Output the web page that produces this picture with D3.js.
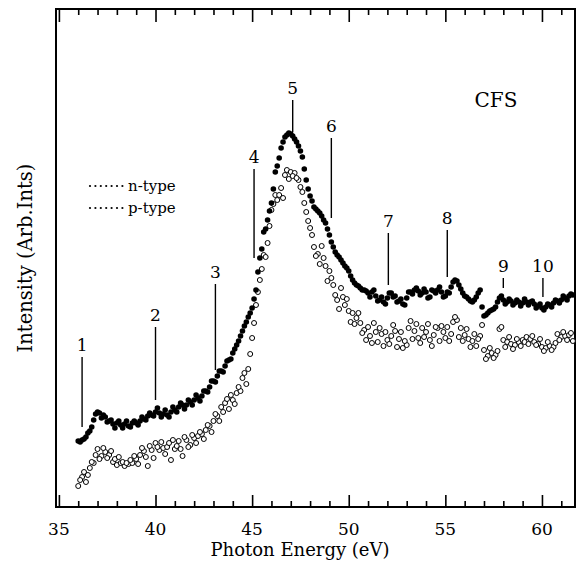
<!DOCTYPE html>
<html><head><meta charset="utf-8">
<script src="https://cdn.jsdelivr.net/npm/d3@7"></script>
<style>body{margin:0;background:#fff;} svg{display:block;}</style>
</head><body>
<svg id="chart" width="579" height="568"></svg>
<script>
// scan on even 0.2 eV points
const energy = [36.0,36.2,36.4,36.6,36.8,37.0,37.2,37.4,37.6,37.8,38.0,38.2,38.4,38.6,38.8,39.0,39.2,39.4,39.6,39.8,
40.0,40.2,40.4,40.6,40.8,41.0,41.2,41.4,41.6,41.8,42.0,42.2,42.4,42.6,42.8,43.0,43.2,43.4,43.6,43.8,
44.0,44.2,44.4,44.6,44.8,45.0,45.2,45.4,45.6,45.8,46.0,46.2,46.4,46.6,46.8,47.0,47.2,47.4,47.6,47.8,
48.0,48.2,48.4,48.6,48.8,49.0,49.2,49.4,49.6,49.8,50.0,50.2,50.4,50.6,50.8,51.0,51.2,51.4,51.6,51.8,
52.0,52.2,52.4,52.6,52.8,53.0,53.2,53.4,53.6,53.8,54.0,54.2,54.4,54.6,54.8,55.0,55.2,55.4,55.6,55.8,
56.0,56.2,56.4,56.6,56.8,57.0,57.2,57.4,57.6,57.8,58.0,58.2,58.4,58.6,58.8,59.0,59.2,59.4,59.6,59.8,
60.0,60.2,60.4,60.6,60.8,61.0,61.2,61.4,61.6];

const nType = [13.2,13.4,14.0,15.2,17.4,19.0,17.8,18.0,17.2,16.6,16.8,16.4,16.6,16.2,16.8,16.8,17.2,17.6,18.2,18.4,
19.0,18.8,18.6,18.4,19.0,19.4,20.0,20.4,20.4,21.0,21.4,21.8,22.2,23.2,24.0,25.2,26.2,27.2,28.2,29.4,
30.8,32.4,34.2,36.2,38.0,39.8,43.4,49.8,55.0,57.4,60.8,67.0,69.8,73.0,74.4,74.6,73.6,72.2,70.0,65.4,
62.2,60.0,59.2,58.2,56.8,54.4,52.0,50.4,49.4,48.2,47.2,45.4,44.4,43.8,43.4,42.8,43.0,42.2,41.4,41.0,
41.8,42.8,42.2,41.2,40.6,41.8,43.0,43.4,43.2,42.8,43.0,42.0,43.2,43.4,43.0,42.2,42.8,45.0,45.2,43.6,
42.2,41.6,41.0,42.0,43.4,38.2,38.8,39.4,40.0,41.8,41.4,41.0,41.2,40.8,41.0,40.8,41.0,41.0,40.6,40.2,
39.8,40.0,40.4,40.8,41.2,41.4,41.8,42.2,42.4];

const pType = [4.2,6.0,5.0,7.8,8.8,11.6,10.2,11.0,10.4,9.0,8.4,8.8,8.2,8.6,8.8,9.6,10.4,11.2,8.2,11.4,
12.8,11.4,11.8,12.0,9.4,11.6,13.2,10.2,13.4,12.4,13.8,14.2,14.6,15.4,16.2,17.2,18.2,20.0,20.8,19.6,
21.4,22.8,23.2,26.8,27.6,33.8,40.4,45.4,50.4,52.8,59.4,62.4,62.4,61.8,67.4,67.0,66.8,65.4,63.0,59.0,
55.8,52.0,50.6,52.2,48.2,47.2,44.4,41.4,43.8,40.4,39.2,38.8,37.8,36.8,35.4,36.0,32.8,35.0,35.8,32.2,
33.4,34.2,35.2,33.6,31.8,32.4,37.2,35.2,33.8,35.8,35.0,33.4,34.4,35.8,36.2,33.8,33.2,37.0,37.4,35.8,
34.4,33.6,33.2,32.2,34.2,31.4,30.2,30.8,30.4,35.6,33.4,33.0,32.6,32.4,33.0,33.4,34.0,33.6,33.0,32.6,
32.0,31.8,32.2,32.0,34.6,34.0,34.2,34.4,33.2];

// scan on odd 0.2 eV points
const energyB = [36.1,36.3,36.5,36.7,36.9,37.1,37.3,37.5,37.7,37.9,38.1,38.3,38.5,38.7,38.9,39.1,39.3,39.5,39.7,39.9,
40.1,40.3,40.5,40.7,40.9,41.1,41.3,41.5,41.7,41.9,42.1,42.3,42.5,42.7,42.9,43.1,43.3,43.5,43.7,43.9,
44.1,44.3,44.5,44.7,44.9,45.1,45.3,45.5,45.7,45.9,46.1,46.3,46.5,46.7,46.9,47.1,47.3,47.5,47.7,47.9,
48.1,48.3,48.5,48.7,48.9,49.1,49.3,49.5,49.7,49.9,50.1,50.3,50.5,50.7,50.9,51.1,51.3,51.5,51.7,51.9,
52.1,52.3,52.5,52.7,52.9,53.1,53.3,53.5,53.7,53.9,54.1,54.3,54.5,54.7,54.9,55.1,55.3,55.5,55.7,55.9,
56.1,56.3,56.5,56.7,56.9,57.1,57.3,57.5,57.7,57.9,58.1,58.3,58.5,58.7,58.9,59.1,59.3,59.5,59.7,59.9,
60.1,60.3,60.5,60.7,60.9,61.1,61.3,61.5];

const nTypeB = [13.0,13.6,14.8,16.0,18.6,18.8,18.4,17.0,17.4,15.8,17.2,15.8,17.2,16.0,17.2,16.4,18.0,17.4,18.8,18.2,
19.8,18.0,19.4,18.0,20.0,19.0,20.8,19.6,21.4,20.4,22.4,21.2,23.2,23.0,25.2,25.0,27.2,27.0,29.2,29.6,
31.6,33.2,35.2,37.0,38.8,41.6,47.0,51.6,55.6,59.2,63.6,68.2,71.8,74.0,74.8,74.2,73.0,71.2,67.6,63.6,
61.2,59.6,58.8,57.4,55.6,53.0,51.0,50.0,48.8,47.8,46.2,44.8,44.2,43.4,43.2,42.0,43.4,41.2,42.0,40.6,
42.8,42.0,41.0,41.6,40.4,43.0,42.6,43.8,42.4,43.6,41.8,43.4,42.8,44.0,42.0,43.0,44.0,45.4,44.4,42.8,
42.0,41.2,41.4,42.8,40.0,38.4,39.2,39.6,41.0,42.2,40.6,41.6,40.4,41.4,40.2,41.6,40.4,41.2,39.8,40.6,
39.4,40.6,40.0,41.4,40.8,42.2,41.4,42.6];

const pTypeB = [5.4,7.0,6.4,9.0,10.4,9.6,11.8,9.8,11.2,9.6,10.0,9.0,8.8,9.4,10.2,8.6,11.8,10.0,12.2,9.8,
12.0,13.0,10.6,12.8,13.4,12.2,11.6,14.0,12.0,14.4,12.8,15.0,13.6,16.4,15.0,18.6,17.2,19.0,21.6,22.4,
20.6,24.0,25.8,24.6,30.6,36.8,43.0,47.6,50.0,56.2,60.6,61.4,63.8,66.4,65.6,66.2,65.8,64.0,60.8,57.2,
54.4,50.2,48.6,49.8,45.2,45.8,42.4,39.6,42.0,41.6,37.0,36.6,38.8,34.8,33.4,34.2,36.8,33.0,34.6,35.0,
32.6,36.4,32.0,35.0,33.2,35.8,33.6,36.6,32.8,34.0,36.6,32.2,36.0,33.2,35.0,36.0,34.6,38.0,34.0,33.2,
35.6,32.0,34.6,33.6,36.4,29.6,31.8,29.8,31.2,36.0,32.0,34.0,31.6,33.6,32.2,33.0,32.6,34.2,32.4,33.6,
31.2,33.0,31.4,32.8,33.4,35.0,33.4,34.8];

const peakLabels = ["1","2","3","4","5","6","7","8","9","10"];
const peakEnergy = [36.2,40.0,43.1,45.1,47.1,49.1,52.05,55.1,58.0,60.05];
const peakTop    = [30.0,36.0,44.6,67.6,81.4,73.8,54.8,55.4,45.8,45.8];
const peakBottom = [16.0,21.4,27.4,49.8,75.0,57.8,44.4,46.0,43.8,42.0];

const seriesNames = ["n-type","p-type"];
const xTicksMajor = [35,40,45,50,55,60];
const xTicksMinor = [36,37,38,39,41,42,43,44,46,47,48,49,51,52,53,54,56,57,58,59,61];

const svg = d3.select("#chart");
const L = 56, R = 575, T = 9, B = 507;
const x = d3.scaleLinear().domain([34.85, 61.71]).range([L, R]);
const y = d3.scaleLinear().domain([0, 99.6]).range([B, T]);
const font = "'DejaVu Serif', serif";

svg.append("rect").attr("x", L).attr("y", T).attr("width", R - L).attr("height", B - T)
  .attr("fill", "none").attr("stroke", "#000").attr("stroke-width", 2);

const gB = svg.append("g").attr("transform", `translate(0,${B})`)
  .call(d3.axisTop(x).tickValues(xTicksMajor).tickSize(12).tickFormat(""));
const gBm = svg.append("g").attr("transform", `translate(0,${B})`)
  .call(d3.axisTop(x).tickValues(xTicksMinor).tickSize(6).tickFormat(""));
const gT = svg.append("g").attr("transform", `translate(0,${T})`)
  .call(d3.axisBottom(x).tickValues(xTicksMajor).tickSize(13).tickFormat(""));
const gTm = svg.append("g").attr("transform", `translate(0,${T})`)
  .call(d3.axisBottom(x).tickValues(xTicksMinor).tickSize(6).tickFormat(""));
[gB, gBm, gT, gTm].forEach(g => {
  g.select(".domain").remove();
  g.selectAll("line").attr("stroke", "#000").attr("stroke-width", 1.6);
});

svg.append("g").selectAll("text").data(xTicksMajor).join("text")
  .attr("x", d => x(d)).attr("y", 535).attr("text-anchor", "middle")
  .attr("font-family", font).attr("font-size", 17).text(d => d);

svg.append("text").attr("x", 300).attr("y", 556).attr("text-anchor", "middle")
  .attr("font-family", font).attr("font-size", 18).text("Photon Energy (eV)");

svg.append("text").attr("transform", "translate(32,258) rotate(-90)").attr("text-anchor", "middle")
  .attr("font-family", font).attr("font-size", 19.5).text("Intensity (Arb.Ints)");

svg.append("text").attr("x", 496).attr("y", 107).attr("text-anchor", "middle")
  .attr("font-family", font).attr("font-size", 20).text("CFS");

const pAll = energy.map((e, i) => [e, pType[i]]).concat(energyB.map((e, i) => [e, pTypeB[i]]));
const nAll = energy.map((e, i) => [e, nType[i]]).concat(energyB.map((e, i) => [e, nTypeB[i]]));

svg.append("g").selectAll("circle").data(pAll).join("circle")
  .attr("cx", d => x(d[0])).attr("cy", d => y(d[1])).attr("r", 2.5)
  .attr("fill", "#fff").attr("stroke", "#000").attr("stroke-width", 1);
svg.append("g").selectAll("circle").data(nAll).join("circle")
  .attr("cx", d => x(d[0])).attr("cy", d => y(d[1])).attr("r", 2.8)
  .attr("fill", "#000");

const gp = svg.append("g");
peakLabels.forEach((lab, i) => {
  gp.append("line").attr("x1", x(peakEnergy[i])).attr("x2", x(peakEnergy[i]))
    .attr("y1", y(peakTop[i])).attr("y2", y(peakBottom[i]))
    .attr("stroke", "#000").attr("stroke-width", 1.4);
  gp.append("text").attr("x", x(peakEnergy[i])).attr("y", y(peakTop[i]) - 6)
    .attr("text-anchor", "middle").attr("font-family", font).attr("font-size", 17).text(lab);
});

const lg = svg.append("g");
seriesNames.forEach((name, i) => {
  const yy = 186 + i * 22;
  lg.append("g").selectAll("circle").data(d3.range(7)).join("circle")
    .attr("cx", k => 90 + k * 5.4).attr("cy", yy).attr("r", 1.1).attr("fill", "#000");
  lg.append("text").attr("x", 128).attr("y", yy + 5).attr("font-family", font)
    .attr("font-size", 15).text(name);
});
</script>
</body></html>
